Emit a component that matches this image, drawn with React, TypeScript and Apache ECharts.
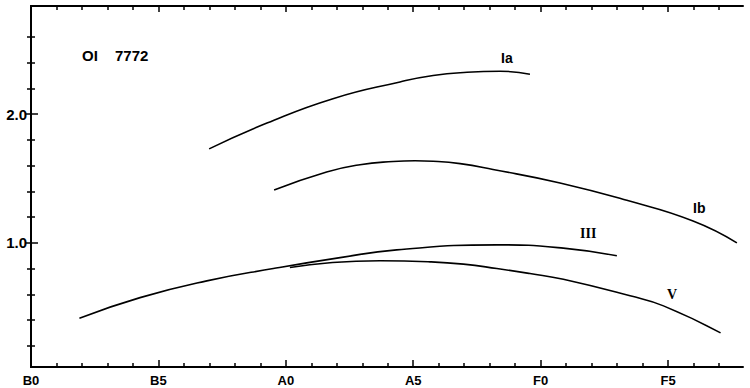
import React, { useEffect, useRef } from 'react';
import * as echarts from 'echarts';

// Spectral type axis (B0 = 0, one unit per subtype)
const spectralTickValues = [0, 5, 10, 15, 20, 25];
const spectralTickLabels = ['B0', 'B5', 'A0', 'A5', 'F0', 'F5'];
const spectralMinorTicks = [1, 2, 3, 4, 6, 7, 8, 9, 11, 12, 13, 14, 16, 17, 18, 19, 21, 22, 23, 24, 26, 27];

// Equivalent width axis
const widthTickValues = [1.0, 2.0];
const widthTickLabels = ['1.0', '2.0'];
const widthMinorTicks = [0.2, 0.4, 0.6, 0.8, 1.2, 1.4, 1.6, 1.8, 2.2, 2.4, 2.6];

// Luminosity class curves
const iaX = [6.99, 9.26, 11.85, 14.48, 15.78, 17.11, 18.41, 19.58];
const iaY = [1.73, 1.93, 2.12, 2.25, 2.3, 2.325, 2.333, 2.31];

const ibX = [9.54, 11.6, 12.91, 14.21, 15.07, 15.78, 16.84, 18.13, 20.76, 23.38, 25.98, 27.7];
const ibY = [1.41, 1.55, 1.607, 1.632, 1.638, 1.634, 1.615, 1.57, 1.465, 1.33, 1.17, 1.0];

const iiiX = [1.9, 4.28, 6.9, 9.51, 12.13, 14.35, 18.28, 20.89, 22.99];
const iiiY = [0.414, 0.574, 0.704, 0.8, 0.885, 0.945, 0.984, 0.959, 0.899];

const vX = [10.16, 11.73, 13.7, 15.66, 16.97, 18.28, 19.58, 20.89, 23.51, 24.82, 27.06];
const vY = [0.808, 0.845, 0.86, 0.852, 0.834, 0.8, 0.761, 0.717, 0.588, 0.51, 0.3];

const X_MIN = 0;
const X_MAX = 27.94;
const Y_MIN = 0.035;
const Y_MAX = 2.84;

const zip = (xs: number[], ys: number[]) => xs.map((x, i) => [x, ys[i]]);

const FONT = '"Liberation Sans", Arial, sans-serif';
const SERIF = '"Liberation Serif", "Times New Roman", serif';

export default function App() {
  const ref = useRef<HTMLDivElement>(null);

  useEffect(() => {
    if (!ref.current) return;
    const chart = echarts.init(ref.current, undefined, { renderer: 'svg' });

    const lineStyle = { color: '#000', width: 2 };
    const tickStyle = { color: '#000', width: 1.5 };
    const baseX = { type: 'value', min: X_MIN, max: X_MAX, splitLine: { show: false } };
    const baseY = { type: 'value', min: Y_MIN, max: Y_MAX, splitLine: { show: false } };

    const xAxes = [
      {
        ...baseX,
        position: 'bottom',
        axisLine: { show: true, lineStyle },
        axisTick: { show: true, inside: true, length: 7, lineStyle: tickStyle, customValues: spectralTickValues },
        axisLabel: {
          show: true,
          inside: false,
          margin: 7,
          customValues: spectralTickValues,
          formatter: (v: number) => {
            const i = spectralTickValues.indexOf(Math.round(v));
            return i >= 0 ? spectralTickLabels[i] : '';
          },
          color: '#000',
          fontSize: 13,
          fontWeight: 'bold',
          fontFamily: FONT,
        },
      },
      {
        ...baseX,
        position: 'bottom',
        axisLine: { show: false },
        axisTick: { show: true, inside: true, length: 4, lineStyle: tickStyle, customValues: spectralMinorTicks },
        axisLabel: { show: false },
      },
      {
        ...baseX,
        position: 'top',
        axisLine: { show: true, lineStyle },
        axisTick: { show: true, inside: true, length: 6, lineStyle: tickStyle, customValues: spectralTickValues },
        axisLabel: { show: false },
      },
      {
        ...baseX,
        position: 'top',
        axisLine: { show: false },
        axisTick: { show: true, inside: true, length: 4, lineStyle: tickStyle, customValues: spectralMinorTicks },
        axisLabel: { show: false },
      },
    ];

    const yAxes = [
      {
        ...baseY,
        position: 'left',
        axisLine: { show: true, lineStyle },
        axisTick: { show: true, inside: true, length: 7, lineStyle: tickStyle, customValues: widthTickValues },
        axisLabel: {
          show: true,
          inside: false,
          margin: 4,
          customValues: widthTickValues,
          formatter: (v: number) => {
            const i = widthTickValues.findIndex((t) => Math.abs(t - v) < 1e-6);
            return i >= 0 ? widthTickLabels[i] : '';
          },
          color: '#000',
          fontSize: 15,
          fontWeight: 'bold',
          fontFamily: FONT,
        },
      },
      {
        ...baseY,
        position: 'left',
        axisLine: { show: false },
        axisTick: { show: true, inside: true, length: 4, lineStyle: tickStyle, customValues: widthMinorTicks },
        axisLabel: { show: false },
      },
      {
        ...baseY,
        position: 'right',
        axisLine: { show: true, lineStyle },
        axisTick: { show: true, inside: true, length: 6, lineStyle: tickStyle, customValues: widthTickValues },
        axisLabel: { show: false },
      },
      {
        ...baseY,
        position: 'right',
        axisLine: { show: false },
        axisTick: { show: true, inside: true, length: 4, lineStyle: tickStyle, customValues: widthMinorTicks },
        axisLabel: { show: false },
      },
    ];

    const mkSeries = (name: string, xs: number[], ys: number[]) => ({
      name,
      type: 'line',
      xAxisIndex: 0,
      yAxisIndex: 0,
      data: zip(xs, ys),
      smooth: 0.5,
      symbol: 'none',
      lineStyle: { color: '#000', width: 1.6 },
      silent: true,
    });

    const txt = (text: string, x: number, y: number, size: number, family = FONT, extra: any = {}) => ({
      type: 'text',
      x,
      y,
      style: {
        text,
        fill: '#000',
        font: `bold ${size}px ${family}`,
        textAlign: 'left',
        textVerticalAlign: 'middle',
        ...extra,
      },
    });

    chart.setOption({
      animation: false,
      backgroundColor: '#fff',
      grid: { left: 31, right: 7, top: 6, bottom: 21, containLabel: false },
      xAxis: xAxes,
      yAxis: yAxes,
      series: [
        mkSeries('Ia', iaX, iaY),
        mkSeries('Ib', ibX, ibY),
        mkSeries('III', iiiX, iiiY),
        mkSeries('V', vX, vY),
      ],
      graphic: [
        txt('OI', 82, 55.5, 15),
        txt('7772', 115, 55.5, 15),
        txt('Ia', 501, 57.5, 14),
        txt('Ib', 693, 208, 14),
        txt('III', 580, 233, 14, SERIF, { letterSpacing: -1 }),
        txt('V', 667, 294.5, 14, SERIF),
      ],
    });

    return () => chart.dispose();
  }, []);

  return (
    <div
      ref={ref}
      style={{ position: 'absolute', left: 0, top: 0, width: 750, height: 388, background: '#fff' }}
    />
  );
}
